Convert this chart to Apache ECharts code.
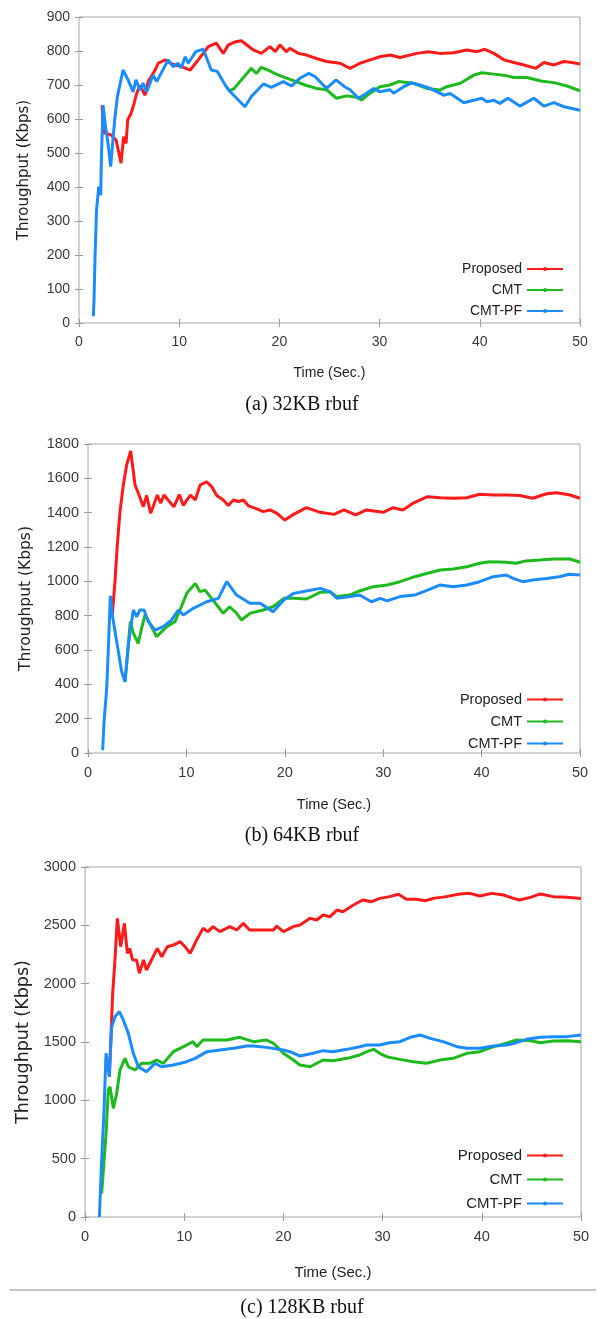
<!DOCTYPE html>
<html>
<head>
<meta charset="utf-8">
<script src="https://cdn.jsdelivr.net/npm/echarts@6/dist/echarts.min.js"></script>
<style>
html,body{margin:0;padding:0;background:#fff;}
#chart{width:599px;height:1319px;}
</style>
</head>
<body>
<div id="chart"></div>
<script>
// ---------- DATA ----------
const SERIES_NAMES = ['Proposed', 'CMT', 'CMT-PF'];
const CAPTIONS = ['(a) 32KB rbuf', '(b) 64KB rbuf', '(c) 128KB rbuf'];
const X_TICKS = [0, 10, 20, 30, 40, 50];
const Y_MAX = [900, 1800, 3000];
const Y_STEP = [100, 200, 500];

// (a) 32KB rbuf  [time (s), throughput (Kbps)]
const A_PROPOSED = [[2.3,640],[2.45,560],[3.2,553],[3.7,538],[4.2,470],[4.45,548],[4.7,528],[4.86,597],[5.2,617],[5.5,646],[5.75,675],[6.1,699],[6.6,670],[6.9,710],[7.6,744],[7.9,764],[8.6,774],[9.1,764],[9.6,759],[10.25,754],[11.1,744],[11.9,774],[12.4,793],[12.9,813],[13.7,823],[14.4,793],[14.9,818],[15.6,827],[16.2,830],[17.4,803],[18.2,793],[19.05,813],[19.6,798],[20.05,818],[20.7,798],[21.05,808],[21.9,793],[22.7,788],[23.7,778],[24.7,769],[26.05,764],[27.05,749],[28.05,764],[29.05,774],[30.04,783],[31.04,788],[32.04,781],[33.7,793],[34.9,798],[36.0,793],[37.4,795],[38.7,803],[39.7,798],[40.5,805],[41.4,793],[42.4,774],[43.4,766],[44.4,759],[45.6,749],[46.4,766],[47.4,759],[48.4,769],[49.2,766],[50,762]];
const A_CMT = [[14.9,680],[15.5,690],[16.2,715],[17.2,749],[17.7,734],[18.2,752],[19.2,739],[19.9,729],[20.7,720],[21.2,715],[22.55,700],[23.7,690],[24.7,686],[25.7,661],[26.7,668],[27.7,664],[28.2,656],[29.05,676],[30.04,695],[31.04,700],[31.9,710],[33.4,705],[34.7,690],[36.0,685],[36.7,695],[38.05,705],[39.4,729],[40.2,736],[41.4,732],[42.4,729],[43.4,722],[44.7,722],[46.1,712],[47.4,707],[48.7,697],[50,683]];
const A_CMTPF = [[1.43,20],[1.5,68],[1.6,195],[1.75,332],[1.97,401],[2.17,376],[2.23,479],[2.4,641],[2.63,582],[2.9,528],[3.16,460],[3.36,528],[3.56,597],[3.83,666],[4.4,744],[4.9,715],[5.4,680],[5.68,715],[6.1,685],[6.4,706],[6.75,680],[7.4,729],[7.75,710],[8.9,774],[9.4,754],[9.9,764],[10.2,750],[10.6,783],[10.9,764],[11.65,798],[12.4,805],[13.2,744],[13.8,740],[14.7,695],[15.1,680],[16.56,636],[17.2,666],[18.4,703],[19.2,693],[20.4,710],[21.2,697],[22.06,720],[22.9,734],[23.55,725],[24.7,690],[25.65,715],[26.5,695],[27.05,686],[27.9,661],[28.7,676],[29.4,690],[30.04,680],[31.04,686],[31.4,676],[32.4,695],[33.2,706],[34.05,700],[35.04,690],[36.4,670],[37.05,675],[38.4,648],[39.4,655],[40.2,661],[40.7,651],[41.4,655],[42.0,646],[42.8,661],[44.0,638],[45.4,661],[46.4,638],[47.4,648],[48.4,636],[50,626]];

// (b) 64KB rbuf
const B_PROPOSED = [[2.47,804],[2.74,998],[2.98,1212],[3.25,1406],[3.59,1561],[3.93,1678],[4.34,1759],[4.78,1561],[5.12,1513],[5.62,1435],[5.96,1500],[6.37,1396],[7.05,1503],[7.39,1455],[7.72,1503],[8.27,1465],[8.74,1435],[9.28,1505],[9.69,1442],[10.4,1503],[10.9,1474],[11.38,1560],[12.06,1580],[12.57,1552],[13.08,1500],[13.75,1474],[14.26,1442],[14.77,1474],[15.3,1465],[15.8,1474],[16.3,1440],[17.1,1423],[17.8,1406],[18.5,1416],[19.2,1396],[20.0,1357],[20.9,1390],[22.2,1429],[23.6,1402],[25.0,1390],[26.0,1416],[27.2,1387],[28.3,1416],[30.0,1402],[31.0,1429],[32.0,1416],[33.0,1454],[34.5,1493],[35.8,1487],[37.1,1484],[38.5,1487],[39.8,1507],[41.2,1503],[42.5,1503],[43.9,1500],[45.2,1484],[46.6,1510],[47.6,1516],[49.0,1503],[50,1484]];
const B_CMT = [[3.76,415],[4.3,765],[4.6,700],[5.1,639],[5.45,726],[5.79,804],[6.13,770],[6.98,678],[8.0,736],[8.84,765],[9.35,833],[10.03,930],[10.9,988],[11.38,940],[11.9,949],[13.75,814],[14.4,852],[15.1,814],[15.6,775],[16.5,815],[17.8,833],[18.8,852],[19.9,901],[20.9,901],[22.2,897],[23.6,936],[24.6,940],[25.3,911],[26.6,920],[27.6,944],[29.0,969],[30.4,979],[31.7,998],[33.2,1027],[34.5,1047],[35.8,1066],[37.1,1072],[38.5,1085],[39.8,1105],[40.8,1114],[42.5,1111],[43.5,1105],[44.5,1119],[45.9,1124],[47.3,1130],[49.0,1130],[50,1111]];
const B_CMTPF = [[1.49,17],[1.63,182],[1.9,377],[2.07,610],[2.27,916],[2.47,804],[3.42,474],[3.76,415],[4.1,629],[4.6,833],[4.95,794],[5.28,833],[5.69,833],[6.13,765],[6.81,716],[7.65,736],[8.5,775],[9.18,833],[9.69,804],[10.7,843],[12.06,881],[13.25,901],[14.1,998],[15.1,920],[16.46,872],[17.5,872],[18.8,823],[19.9,891],[20.9,930],[22.2,944],[23.6,959],[24.6,940],[25.3,901],[26.6,911],[27.6,920],[28.8,881],[29.7,901],[30.4,886],[31.7,911],[33.2,920],[34.5,949],[35.8,979],[37.1,969],[38.5,979],[39.8,998],[41.2,1027],[42.5,1037],[43.2,1017],[44.2,998],[45.2,1008],[46.6,1017],[47.9,1027],[48.9,1041],[50,1037]];

// (c) 128KB rbuf
const C_PROPOSED = [[2.45,1203],[2.79,1917],[3.02,2203],[3.26,2560],[3.6,2317],[3.97,2517],[4.27,2260],[4.5,2303],[4.8,2203],[5.2,2203],[5.48,2089],[5.9,2203],[6.2,2117],[6.7,2203],[7.29,2303],[7.73,2231],[8.3,2317],[8.9,2331],[9.6,2360],[10.08,2317],[10.6,2260],[11.25,2374],[11.9,2474],[12.4,2446],[12.9,2489],[13.6,2446],[14.6,2489],[15.3,2460],[15.96,2517],[16.6,2460],[17.97,2460],[19.0,2460],[19.3,2494],[20.0,2446],[21.0,2489],[21.67,2503],[22.7,2560],[23.35,2546],[24.0,2589],[24.7,2574],[25.4,2631],[26.0,2617],[27.05,2674],[28.0,2717],[28.9,2703],[29.7,2731],[30.7,2746],[31.6,2766],[32.4,2723],[33.4,2723],[34.3,2711],[35.1,2731],[36.4,2746],[37.8,2769],[38.8,2774],[39.8,2751],[41.0,2774],[42.2,2760],[43.2,2731],[43.8,2717],[44.9,2740],[45.9,2769],[47.2,2746],[48.6,2740],[50,2731]];
const C_CMT = [[1.68,203],[2.12,717],[2.35,1089],[2.52,1117],[2.86,931],[3.19,1060],[3.53,1260],[4.03,1360],[4.37,1288],[5.04,1260],[5.7,1317],[6.55,1317],[7.22,1346],[7.9,1317],[8.9,1417],[10.25,1474],[10.9,1503],[11.25,1460],[11.9,1517],[13.3,1517],[14.3,1517],[15.6,1540],[16.97,1503],[18.3,1517],[19.0,1489],[20.0,1403],[21.0,1346],[21.67,1303],[22.7,1288],[24.0,1346],[25.0,1340],[26.4,1360],[27.7,1389],[28.4,1417],[29.1,1437],[29.7,1403],[30.4,1374],[31.75,1351],[33.1,1331],[34.4,1317],[35.8,1346],[37.1,1360],[38.5,1403],[39.8,1417],[41.2,1460],[42.5,1489],[43.5,1517],[44.9,1511],[45.9,1494],[47.2,1509],[48.6,1511],[50,1503]];
const C_CMTPF = [[1.45,0],[1.68,489],[1.92,917],[2.12,1403],[2.45,1203],[2.69,1631],[3.02,1717],[3.46,1760],[3.86,1689],[4.37,1574],[4.87,1403],[5.38,1288],[6.2,1245],[7.06,1317],[7.73,1288],[8.9,1303],[10.25,1331],[11.1,1360],[12.3,1417],[13.6,1431],[15.0,1446],[16.3,1466],[16.97,1466],[18.3,1454],[20.0,1431],[20.66,1417],[21.67,1380],[23.0,1403],[24.0,1426],[25.0,1417],[26.4,1437],[27.7,1460],[28.4,1474],[29.7,1474],[30.7,1494],[31.75,1503],[32.8,1540],[33.8,1560],[34.8,1531],[36.1,1503],[37.5,1460],[38.5,1446],[39.8,1446],[41.2,1466],[42.5,1474],[43.5,1494],[44.5,1523],[45.9,1540],[47.2,1546],[48.6,1546],[50,1560]];

const PANEL_DATA = [
  [A_PROPOSED, A_CMT, A_CMTPF],
  [B_PROPOSED, B_CMT, B_CMTPF],
  [C_PROPOSED, C_CMT, C_CMTPF]
];

// ---------- STYLE / LAYOUT ----------
const COLORS = ['#ff1a1a', '#1dba1d', '#1a8cff'];
const SANS = "'Liberation Sans', Arial, sans-serif";
const SERIF = "'Liberation Serif', 'Times New Roman', serif";
const LAYOUT = [
  {grid:{left:79, top:17, width:501, height:306}, lab:14, xName:14, xGap:43, yName:15, yGap:47, legTop:262, legGap:7, legFont:14, cap:405},
  {grid:{left:88, top:444, width:492, height:309}, lab:14.5, xName:14.5, xGap:44, yName:15.5, yGap:54, legTop:692, legGap:7, legFont:14.5, cap:836},
  {grid:{left:85, top:867, width:496, height:350}, lab:14.5, xName:15, xGap:48, yName:17.5, yGap:52, legTop:1148, legGap:9, legFont:15, cap:1308}
];

const grids = [], xAxes = [], yAxes = [], series = [], legends = [], graphics = [];
LAYOUT.forEach((L, p) => {
  grids.push(Object.assign({show:true, borderColor:'#a6a6a6', borderWidth:1, backgroundColor:'transparent'}, L.grid));
  const tick = {show:true, inside:true, length:4, lineStyle:{color:'#9a9a9a', width:1}};
  const lab = {color:'#3a3a3a', fontFamily:SANS, fontSize:L.lab, formatter:(v) => String(v)};
  // bottom x axis
  xAxes.push({type:'value', gridIndex:p, min:0, max:50, interval:10, position:'bottom',
    axisLine:{show:false}, axisTick:tick, splitLine:{show:false},
    axisLabel:Object.assign({margin:12}, lab),
    name:'Time (Sec.)', nameLocation:'middle', nameGap:L.xGap,
    nameTextStyle:{color:'#222', fontFamily:SANS, fontSize:L.xName}});
  // top mirror x axis
  xAxes.push({type:'value', gridIndex:p, min:0, max:50, interval:10, position:'top',
    axisLine:{show:false}, axisTick:tick, splitLine:{show:false}, axisLabel:{show:false}});
  // left y axis
  yAxes.push({type:'value', gridIndex:p, min:0, max:Y_MAX[p], interval:Y_STEP[p], position:'left',
    axisLine:{show:false}, axisTick:tick, splitLine:{show:false},
    axisLabel:Object.assign({margin:9}, lab),
    name:'Throughput (Kbps)', nameLocation:'middle', nameGap:L.yGap, nameRotate:90,
    nameTextStyle:{color:'#222', fontFamily:"'DejaVu Sans', sans-serif", fontSize:L.yName}});
  // right mirror y axis
  yAxes.push({type:'value', gridIndex:p, min:0, max:Y_MAX[p], interval:Y_STEP[p], position:'right',
    axisLine:{show:false}, axisTick:tick, splitLine:{show:false}, axisLabel:{show:false}});

  SERIES_NAMES.forEach((nm, s) => {
    series.push({
      name:nm, type:'line', xAxisIndex:p*2, yAxisIndex:p*2,
      data:PANEL_DATA[p][s], showSymbol:false, symbol:'circle', symbolSize:3,
      lineStyle:{color:COLORS[s], width:3}, itemStyle:{color:COLORS[s]},
      animation:false, z:2+s
    });
  });

  legends.push({
    data:SERIES_NAMES, orient:'vertical', align:'right', right:35, top:L.legTop, padding:0,
    itemWidth:36, itemHeight:5, itemGap:L.legGap, selectedMode:false,
    textStyle:{color:'#222', fontFamily:SANS, fontSize:L.legFont, lineHeight:14}
  });

  graphics.push({type:'text', x:302, y:L.cap, style:{text:CAPTIONS[p], font:'20px ' + SERIF, fill:'#111', textAlign:'center', textVerticalAlign:'middle'}});
});
graphics.push({type:'line', shape:{x1:10, y1:1290, x2:596, y2:1290}, style:{stroke:'#8c8c8c', lineWidth:1}});

const chart = echarts.init(document.getElementById('chart'), null, {renderer:'canvas'});
chart.setOption({
  animation:false,
  backgroundColor:'#ffffff',
  grid:grids, xAxis:xAxes, yAxis:yAxes, series:series, legend:legends, graphic:graphics
});
</script>
</body>
</html>
